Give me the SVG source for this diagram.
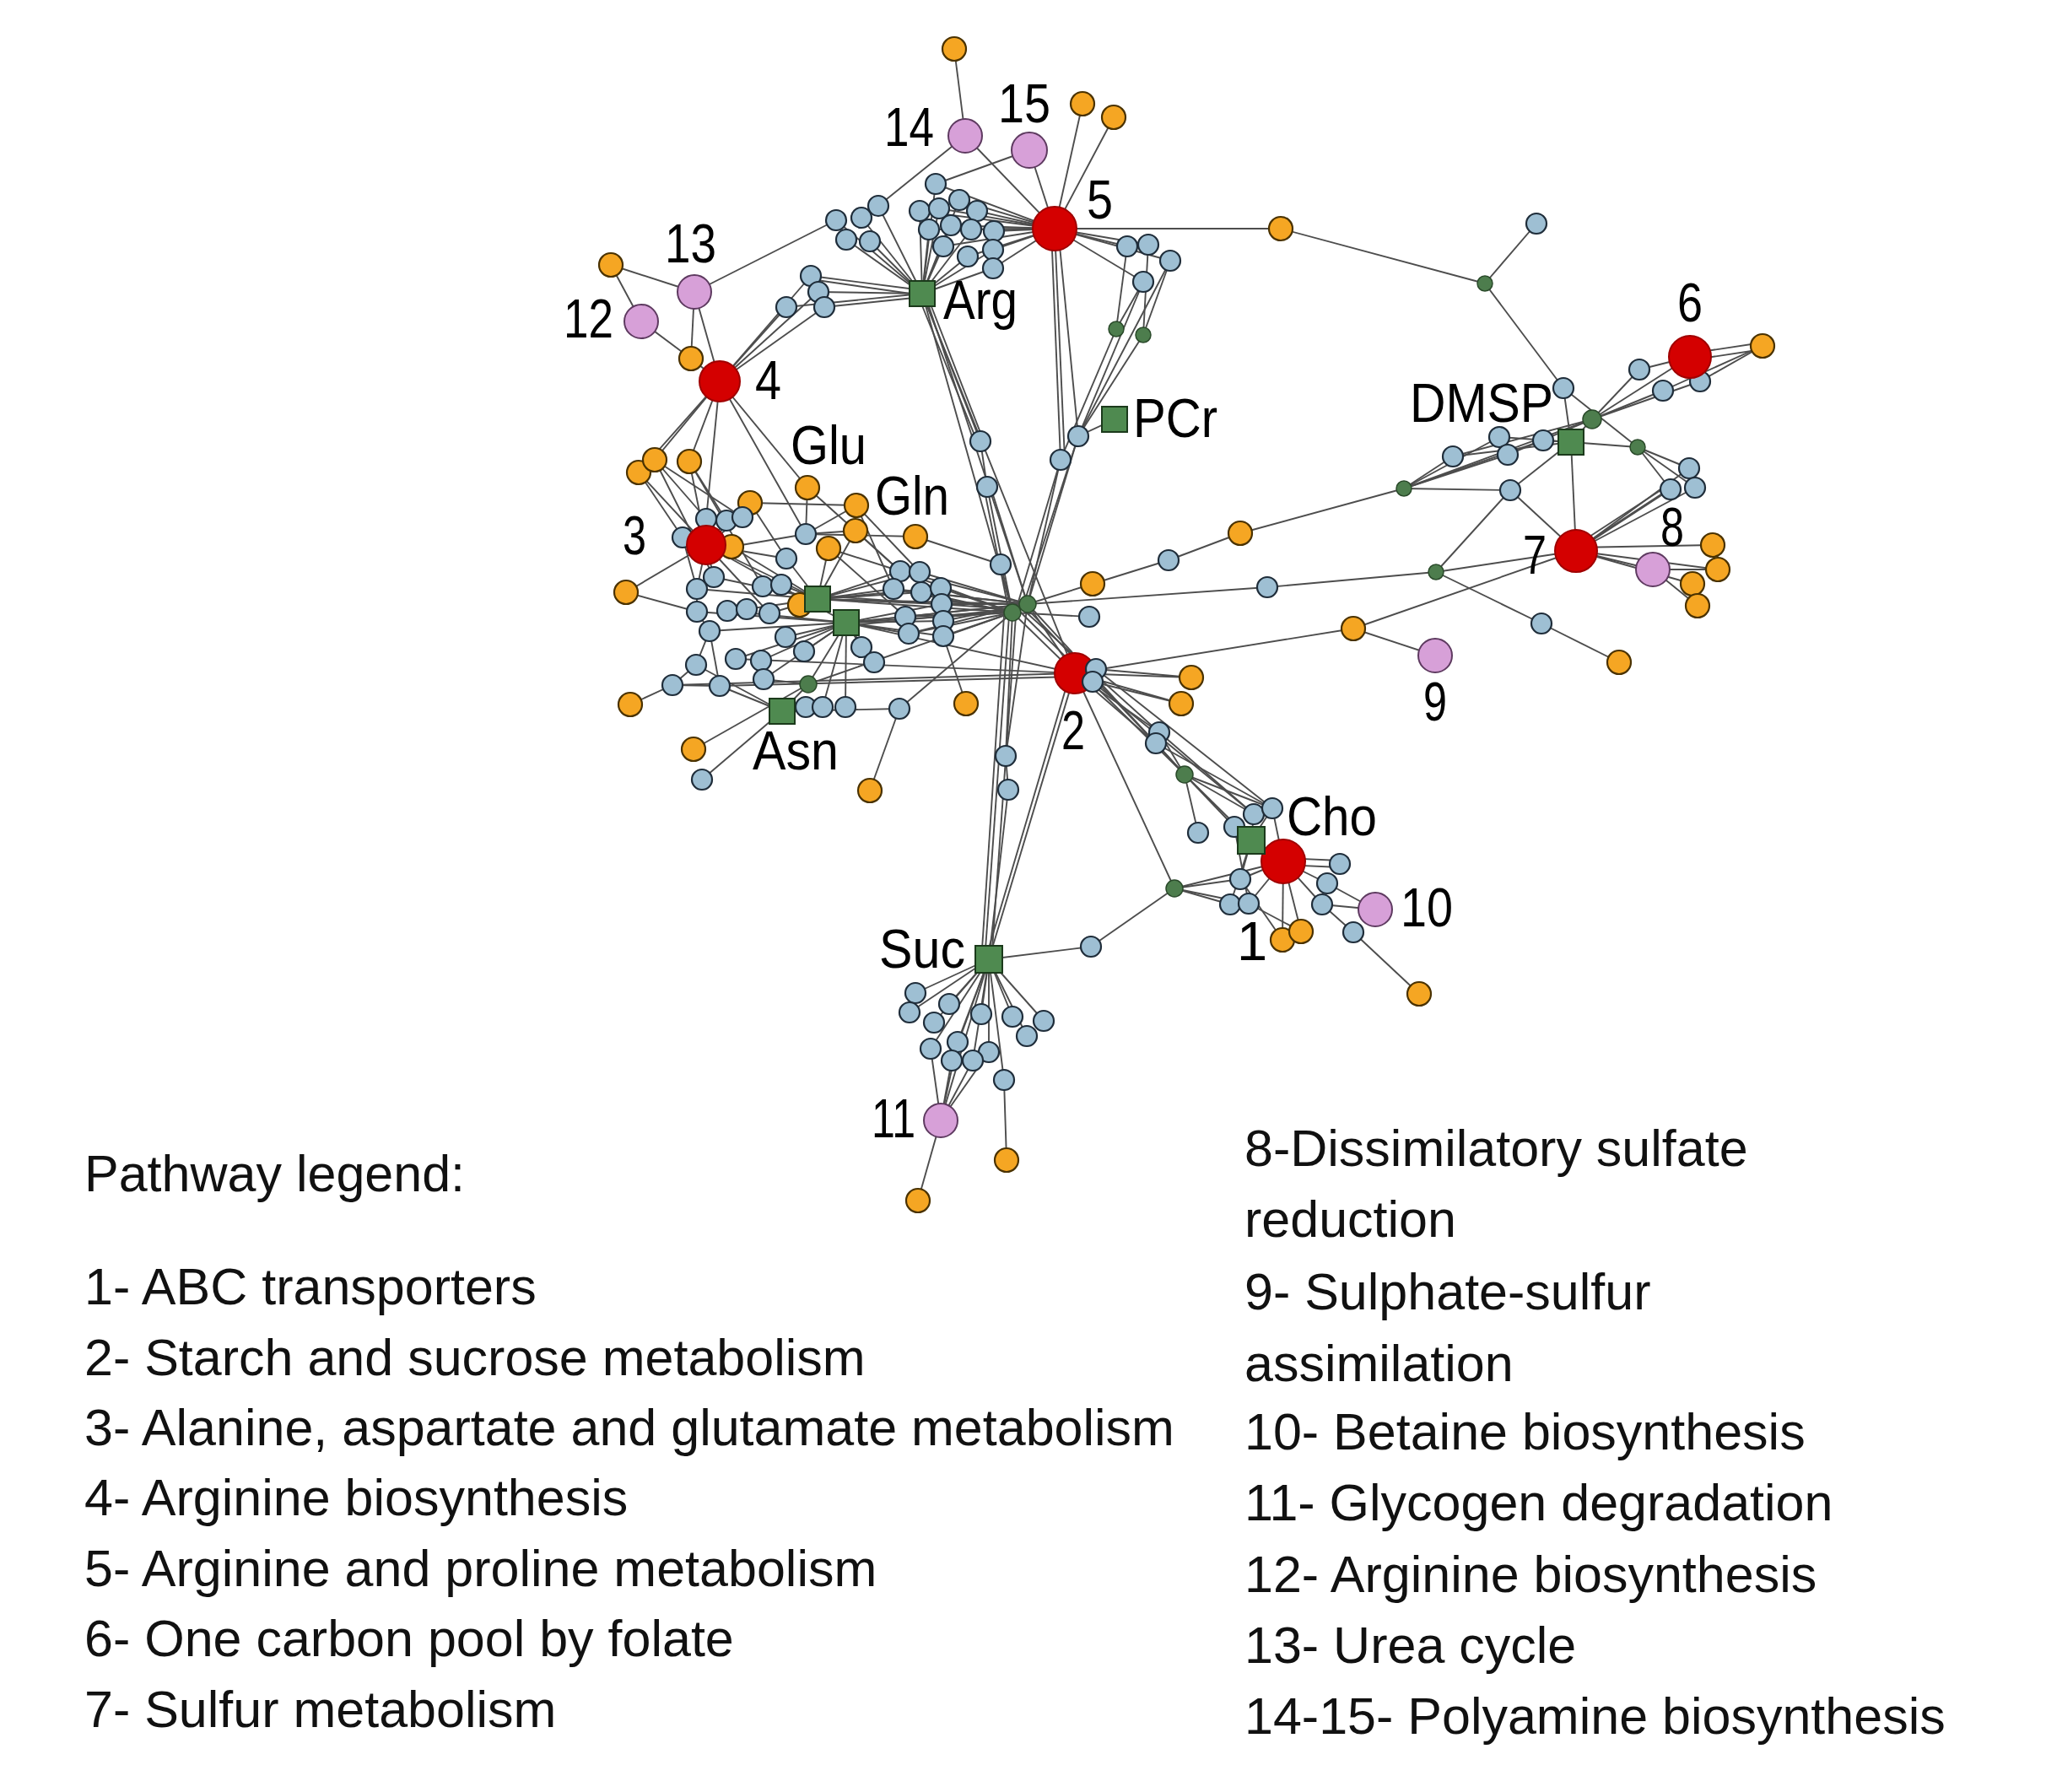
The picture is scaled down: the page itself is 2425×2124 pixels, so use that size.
<svg xmlns="http://www.w3.org/2000/svg" width="2425" height="2124" viewBox="0 0 2425 2124">
<style>
.e line{stroke:#4d4d4d;stroke-width:1.9;fill:none}
.b{fill:#9ebfd3;stroke:#1f2d3a;stroke-width:2.2}
.o{fill:#f5a623;stroke:#4a3200;stroke-width:2.2}
.r{fill:#d40000;stroke:#a00000;stroke-width:2}
.p{fill:#d7a0d8;stroke:#5e3a60;stroke-width:2}
.s{fill:#4f8a50;stroke:#1b3a1b;stroke-width:2}
.d{fill:#4d7d4d;stroke:#2a4a2a;stroke-width:1.5}
.lb{font-family:"Liberation Sans",Arial,sans-serif;font-size:65px;fill:#000}
.lg{font-family:"Liberation Sans",Arial,sans-serif;font-size:61px;fill:#111}
</style>
<rect width="2425" height="2124" fill="#fff"/>
<g id="connectors" class="e">
<line x1="1131" y1="58" x2="1144" y2="161"/>
<line x1="1144" y1="161" x2="1250" y2="271"/>
<line x1="1220" y1="178" x2="1250" y2="271"/>
<line x1="1283" y1="123" x2="1250" y2="271"/>
<line x1="1320" y1="139" x2="1250" y2="271"/>
<line x1="1250" y1="271" x2="1518" y2="271"/>
<line x1="1518" y1="271" x2="1760" y2="336"/>
<line x1="1821" y1="265" x2="1760" y2="336"/>
<line x1="1760" y1="336" x2="1853" y2="460"/>
<line x1="1853" y1="460" x2="1862" y2="524"/>
<line x1="1144" y1="161" x2="1041" y2="244"/>
<line x1="1220" y1="178" x2="1109" y2="218"/>
<line x1="823" y1="346" x2="991" y2="261"/>
<line x1="724" y1="314" x2="823" y2="346"/>
<line x1="724" y1="314" x2="760" y2="381"/>
<line x1="760" y1="381" x2="819" y2="425"/>
<line x1="823" y1="346" x2="819" y2="425"/>
<line x1="823" y1="346" x2="853" y2="452"/>
<line x1="819" y1="425" x2="853" y2="452"/>
<line x1="1250" y1="271" x2="1109" y2="218"/>
<line x1="1250" y1="271" x2="1090" y2="250"/>
<line x1="1250" y1="271" x2="1113" y2="247"/>
<line x1="1250" y1="271" x2="1137" y2="237"/>
<line x1="1250" y1="271" x2="1158" y2="250"/>
<line x1="1250" y1="271" x2="1101" y2="272"/>
<line x1="1250" y1="271" x2="1127" y2="267"/>
<line x1="1250" y1="271" x2="1151" y2="272"/>
<line x1="1250" y1="271" x2="1178" y2="274"/>
<line x1="1250" y1="271" x2="1118" y2="292"/>
<line x1="1250" y1="271" x2="1147" y2="304"/>
<line x1="1250" y1="271" x2="1177" y2="296"/>
<line x1="1250" y1="271" x2="1177" y2="318"/>
<line x1="1093" y1="348" x2="991" y2="261"/>
<line x1="1093" y1="348" x2="1003" y2="284"/>
<line x1="1093" y1="348" x2="1021" y2="258"/>
<line x1="1093" y1="348" x2="1041" y2="244"/>
<line x1="1093" y1="348" x2="1031" y2="286"/>
<line x1="1093" y1="348" x2="1090" y2="250"/>
<line x1="1093" y1="348" x2="1113" y2="247"/>
<line x1="1093" y1="348" x2="1137" y2="237"/>
<line x1="1093" y1="348" x2="1101" y2="272"/>
<line x1="1093" y1="348" x2="1127" y2="267"/>
<line x1="1093" y1="348" x2="1151" y2="272"/>
<line x1="1093" y1="348" x2="1118" y2="292"/>
<line x1="1093" y1="348" x2="1147" y2="304"/>
<line x1="1093" y1="348" x2="1177" y2="296"/>
<line x1="1093" y1="348" x2="1177" y2="318"/>
<line x1="1093" y1="348" x2="1109" y2="218"/>
<line x1="1093" y1="344" x2="961" y2="327"/>
<line x1="1093" y1="348" x2="970" y2="346"/>
<line x1="1093" y1="352" x2="977" y2="364"/>
<line x1="1093" y1="348" x2="932" y2="364"/>
<line x1="1093" y1="350" x2="961" y2="331"/>
<line x1="853" y1="452" x2="932" y2="364"/>
<line x1="853" y1="452" x2="961" y2="327"/>
<line x1="853" y1="452" x2="977" y2="364"/>
<line x1="853" y1="452" x2="970" y2="346"/>
<line x1="1250" y1="271" x2="1336" y2="292"/>
<line x1="1250" y1="271" x2="1361" y2="290"/>
<line x1="1250" y1="271" x2="1387" y2="309"/>
<line x1="1250" y1="271" x2="1355" y2="334"/>
<line x1="1336" y1="292" x2="1323" y2="390"/>
<line x1="1355" y1="334" x2="1323" y2="390"/>
<line x1="1361" y1="290" x2="1355" y2="397"/>
<line x1="1387" y1="309" x2="1355" y2="397"/>
<line x1="1355" y1="334" x2="1278" y2="517"/>
<line x1="1387" y1="309" x2="1278" y2="517"/>
<line x1="1323" y1="390" x2="1257" y2="545"/>
<line x1="1355" y1="397" x2="1278" y2="517"/>
<line x1="1246" y1="271" x2="1257" y2="545"/>
<line x1="1254" y1="271" x2="1278" y2="517"/>
<line x1="1250" y1="271" x2="1262" y2="545"/>
<line x1="1257" y1="545" x2="1205" y2="720"/>
<line x1="1278" y1="517" x2="1212" y2="720"/>
<line x1="1257" y1="545" x2="1218" y2="716"/>
<line x1="1278" y1="517" x2="1218" y2="716"/>
<line x1="1321" y1="497" x2="1278" y2="517"/>
<line x1="1093" y1="348" x2="1162" y2="523"/>
<line x1="1098" y1="348" x2="1166" y2="523"/>
<line x1="1088" y1="350" x2="1158" y2="523"/>
<line x1="1162" y1="523" x2="1170" y2="577"/>
<line x1="1170" y1="577" x2="1200" y2="726"/>
<line x1="1174" y1="577" x2="1218" y2="716"/>
<line x1="1166" y1="577" x2="1196" y2="726"/>
<line x1="1093" y1="348" x2="1200" y2="726"/>
<line x1="1096" y1="348" x2="1218" y2="716"/>
<line x1="1093" y1="348" x2="1274" y2="798"/>
<line x1="853" y1="452" x2="757" y2="560"/>
<line x1="853" y1="452" x2="776" y2="545"/>
<line x1="853" y1="452" x2="817" y2="547"/>
<line x1="853" y1="452" x2="957" y2="578"/>
<line x1="853" y1="452" x2="955" y2="633"/>
<line x1="853" y1="452" x2="837" y2="615"/>
<line x1="757" y1="560" x2="837" y2="646"/>
<line x1="776" y1="545" x2="837" y2="615"/>
<line x1="817" y1="547" x2="861" y2="617"/>
<line x1="817" y1="547" x2="837" y2="646"/>
<line x1="776" y1="545" x2="880" y2="613"/>
<line x1="757" y1="560" x2="809" y2="637"/>
<line x1="776" y1="545" x2="846" y2="684"/>
<line x1="817" y1="547" x2="904" y2="695"/>
<line x1="957" y1="578" x2="955" y2="633"/>
<line x1="957" y1="578" x2="1067" y2="677"/>
<line x1="889" y1="596" x2="837" y2="646"/>
<line x1="889" y1="596" x2="1015" y2="599"/>
<line x1="889" y1="596" x2="932" y2="662"/>
<line x1="1015" y1="599" x2="955" y2="633"/>
<line x1="1015" y1="599" x2="1090" y2="678"/>
<line x1="1015" y1="599" x2="1059" y2="698"/>
<line x1="1014" y1="629" x2="955" y2="633"/>
<line x1="1014" y1="629" x2="969" y2="710"/>
<line x1="1014" y1="629" x2="1067" y2="677"/>
<line x1="955" y1="633" x2="1085" y2="636"/>
<line x1="1085" y1="636" x2="1186" y2="669"/>
<line x1="1186" y1="669" x2="1200" y2="726"/>
<line x1="982" y1="650" x2="969" y2="710"/>
<line x1="982" y1="650" x2="1073" y2="731"/>
<line x1="982" y1="650" x2="1067" y2="677"/>
<line x1="867" y1="648" x2="955" y2="633"/>
<line x1="867" y1="648" x2="969" y2="710"/>
<line x1="742" y1="702" x2="837" y2="646"/>
<line x1="742" y1="702" x2="826" y2="725"/>
<line x1="948" y1="717" x2="969" y2="710"/>
<line x1="837" y1="646" x2="861" y2="617"/>
<line x1="837" y1="646" x2="880" y2="613"/>
<line x1="837" y1="646" x2="809" y2="637"/>
<line x1="837" y1="646" x2="846" y2="684"/>
<line x1="837" y1="646" x2="826" y2="698"/>
<line x1="837" y1="646" x2="932" y2="662"/>
<line x1="837" y1="646" x2="969" y2="710"/>
<line x1="837" y1="646" x2="1003" y2="738"/>
<line x1="837" y1="646" x2="912" y2="727"/>
<line x1="846" y1="684" x2="969" y2="710"/>
<line x1="826" y1="698" x2="969" y2="710"/>
<line x1="826" y1="725" x2="1003" y2="738"/>
<line x1="862" y1="724" x2="1003" y2="738"/>
<line x1="885" y1="722" x2="969" y2="710"/>
<line x1="912" y1="727" x2="969" y2="710"/>
<line x1="904" y1="695" x2="969" y2="710"/>
<line x1="926" y1="693" x2="969" y2="710"/>
<line x1="932" y1="662" x2="969" y2="710"/>
<line x1="841" y1="748" x2="1003" y2="738"/>
<line x1="931" y1="755" x2="1003" y2="738"/>
<line x1="953" y1="772" x2="1003" y2="738"/>
<line x1="872" y1="781" x2="1003" y2="738"/>
<line x1="902" y1="783" x2="1003" y2="738"/>
<line x1="905" y1="805" x2="1003" y2="738"/>
<line x1="1021" y1="767" x2="1003" y2="738"/>
<line x1="1036" y1="785" x2="1003" y2="738"/>
<line x1="809" y1="637" x2="826" y2="698"/>
<line x1="826" y1="698" x2="826" y2="725"/>
<line x1="826" y1="725" x2="841" y2="748"/>
<line x1="841" y1="748" x2="825" y2="788"/>
<line x1="825" y1="788" x2="797" y2="812"/>
<line x1="797" y1="812" x2="747" y2="835"/>
<line x1="797" y1="812" x2="853" y2="813"/>
<line x1="853" y1="813" x2="927" y2="843"/>
<line x1="825" y1="788" x2="927" y2="843"/>
<line x1="841" y1="748" x2="853" y2="813"/>
<line x1="797" y1="812" x2="1274" y2="798"/>
<line x1="853" y1="813" x2="1274" y2="802"/>
<line x1="872" y1="781" x2="1274" y2="798"/>
<line x1="969" y1="710" x2="1200" y2="726"/>
<line x1="969" y1="710" x2="1218" y2="716"/>
<line x1="1003" y1="738" x2="1200" y2="726"/>
<line x1="1003" y1="738" x2="1218" y2="716"/>
<line x1="969" y1="706" x2="1200" y2="722"/>
<line x1="1003" y1="742" x2="1218" y2="720"/>
<line x1="1003" y1="738" x2="1274" y2="798"/>
<line x1="969" y1="710" x2="1067" y2="677"/>
<line x1="969" y1="710" x2="1090" y2="678"/>
<line x1="969" y1="710" x2="1059" y2="698"/>
<line x1="969" y1="710" x2="1092" y2="702"/>
<line x1="969" y1="710" x2="1115" y2="697"/>
<line x1="969" y1="710" x2="1116" y2="716"/>
<line x1="1003" y1="738" x2="1073" y2="731"/>
<line x1="1003" y1="738" x2="1118" y2="736"/>
<line x1="1003" y1="738" x2="1077" y2="751"/>
<line x1="1003" y1="738" x2="1118" y2="754"/>
<line x1="1003" y1="738" x2="1116" y2="716"/>
<line x1="1067" y1="677" x2="1200" y2="726"/>
<line x1="1090" y1="678" x2="1218" y2="716"/>
<line x1="1059" y1="698" x2="1200" y2="726"/>
<line x1="1092" y1="702" x2="1218" y2="716"/>
<line x1="1115" y1="697" x2="1200" y2="726"/>
<line x1="1116" y1="716" x2="1218" y2="716"/>
<line x1="1073" y1="731" x2="1200" y2="726"/>
<line x1="1118" y1="736" x2="1218" y2="716"/>
<line x1="1077" y1="751" x2="1200" y2="726"/>
<line x1="1118" y1="754" x2="1200" y2="726"/>
<line x1="1067" y1="677" x2="1218" y2="716"/>
<line x1="1073" y1="731" x2="1218" y2="716"/>
<line x1="1059" y1="698" x2="1218" y2="716"/>
<line x1="1077" y1="751" x2="1218" y2="716"/>
<line x1="1092" y1="702" x2="1200" y2="726"/>
<line x1="927" y1="843" x2="1066" y2="840"/>
<line x1="1066" y1="840" x2="1031" y2="937"/>
<line x1="1066" y1="840" x2="1200" y2="726"/>
<line x1="927" y1="843" x2="832" y2="924"/>
<line x1="927" y1="843" x2="958" y2="811"/>
<line x1="958" y1="811" x2="1003" y2="738"/>
<line x1="958" y1="811" x2="1200" y2="726"/>
<line x1="958" y1="811" x2="905" y2="805"/>
<line x1="822" y1="888" x2="958" y2="811"/>
<line x1="1002" y1="838" x2="1003" y2="738"/>
<line x1="975" y1="838" x2="1003" y2="738"/>
<line x1="1145" y1="834" x2="1118" y2="754"/>
<line x1="1200" y1="726" x2="1291" y2="731"/>
<line x1="1218" y1="716" x2="1295" y2="692"/>
<line x1="1295" y1="692" x2="1385" y2="664"/>
<line x1="1385" y1="664" x2="1470" y2="632"/>
<line x1="1470" y1="632" x2="1664" y2="579"/>
<line x1="1218" y1="716" x2="1502" y2="696"/>
<line x1="1502" y1="696" x2="1702" y2="678"/>
<line x1="1702" y1="678" x2="1868" y2="653"/>
<line x1="1702" y1="678" x2="1827" y2="739"/>
<line x1="1827" y1="739" x2="1919" y2="785"/>
<line x1="1702" y1="678" x2="1790" y2="581"/>
<line x1="1664" y1="579" x2="1722" y2="541"/>
<line x1="1664" y1="579" x2="1777" y2="518"/>
<line x1="1664" y1="579" x2="1787" y2="539"/>
<line x1="1664" y1="579" x2="1829" y2="522"/>
<line x1="1664" y1="579" x2="1790" y2="581"/>
<line x1="1664" y1="579" x2="1887" y2="497"/>
<line x1="1722" y1="541" x2="1862" y2="524"/>
<line x1="1777" y1="518" x2="1862" y2="524"/>
<line x1="1829" y1="522" x2="1862" y2="524"/>
<line x1="1722" y1="541" x2="1887" y2="497"/>
<line x1="1787" y1="539" x2="1887" y2="497"/>
<line x1="1790" y1="581" x2="1862" y2="524"/>
<line x1="1790" y1="581" x2="1868" y2="653"/>
<line x1="1862" y1="524" x2="1868" y2="653"/>
<line x1="1862" y1="524" x2="1887" y2="497"/>
<line x1="1862" y1="524" x2="1941" y2="530"/>
<line x1="1887" y1="497" x2="2003" y2="423"/>
<line x1="1887" y1="497" x2="1943" y2="438"/>
<line x1="1887" y1="497" x2="1971" y2="463"/>
<line x1="1887" y1="497" x2="2015" y2="452"/>
<line x1="1853" y1="460" x2="1941" y2="530"/>
<line x1="2003" y1="419" x2="2089" y2="406"/>
<line x1="2003" y1="427" x2="2089" y2="414"/>
<line x1="1943" y1="438" x2="2003" y2="423"/>
<line x1="2015" y1="452" x2="2089" y2="410"/>
<line x1="1971" y1="463" x2="2089" y2="410"/>
<line x1="1941" y1="530" x2="2002" y2="555"/>
<line x1="1941" y1="530" x2="1980" y2="580"/>
<line x1="1941" y1="530" x2="2009" y2="578"/>
<line x1="1868" y1="653" x2="1980" y2="580"/>
<line x1="1872" y1="649" x2="1984" y2="576"/>
<line x1="1864" y1="649" x2="1976" y2="576"/>
<line x1="1868" y1="653" x2="2002" y2="555"/>
<line x1="1868" y1="653" x2="2009" y2="578"/>
<line x1="1868" y1="653" x2="1959" y2="675"/>
<line x1="1868" y1="649" x2="2030" y2="646"/>
<line x1="1868" y1="653" x2="2036" y2="675"/>
<line x1="1868" y1="653" x2="2006" y2="692"/>
<line x1="1959" y1="675" x2="2012" y2="718"/>
<line x1="1959" y1="675" x2="2036" y2="675"/>
<line x1="1274" y1="798" x2="1604" y2="745"/>
<line x1="1604" y1="745" x2="1868" y2="653"/>
<line x1="1604" y1="745" x2="1701" y2="777"/>
<line x1="1200" y1="726" x2="1274" y2="798"/>
<line x1="1218" y1="716" x2="1274" y2="798"/>
<line x1="1212" y1="722" x2="1374" y2="868"/>
<line x1="1216" y1="720" x2="1370" y2="881"/>
<line x1="1220" y1="718" x2="1404" y2="918"/>
<line x1="1208" y1="724" x2="1404" y2="918"/>
<line x1="1274" y1="798" x2="1374" y2="868"/>
<line x1="1274" y1="798" x2="1370" y2="881"/>
<line x1="1274" y1="798" x2="1299" y2="793"/>
<line x1="1274" y1="798" x2="1295" y2="808"/>
<line x1="1274" y1="798" x2="1412" y2="803"/>
<line x1="1274" y1="798" x2="1400" y2="834"/>
<line x1="1299" y1="793" x2="1412" y2="803"/>
<line x1="1295" y1="808" x2="1400" y2="834"/>
<line x1="1374" y1="868" x2="1404" y2="918"/>
<line x1="1370" y1="881" x2="1404" y2="918"/>
<line x1="1404" y1="918" x2="1420" y2="987"/>
<line x1="1404" y1="918" x2="1463" y2="980"/>
<line x1="1404" y1="918" x2="1486" y2="965"/>
<line x1="1404" y1="918" x2="1508" y2="958"/>
<line x1="1404" y1="918" x2="1483" y2="996"/>
<line x1="1374" y1="868" x2="1486" y2="965"/>
<line x1="1370" y1="881" x2="1508" y2="958"/>
<line x1="1295" y1="808" x2="1486" y2="965"/>
<line x1="1299" y1="793" x2="1508" y2="958"/>
<line x1="1274" y1="798" x2="1392" y2="1053"/>
<line x1="1274" y1="798" x2="1172" y2="1137"/>
<line x1="1268" y1="800" x2="1168" y2="1137"/>
<line x1="1200" y1="726" x2="1192" y2="896"/>
<line x1="1218" y1="716" x2="1192" y2="896"/>
<line x1="1192" y1="896" x2="1195" y2="936"/>
<line x1="1195" y1="936" x2="1172" y2="1137"/>
<line x1="1196" y1="730" x2="1168" y2="1125"/>
<line x1="1190" y1="730" x2="1164" y2="1125"/>
<line x1="1204" y1="730" x2="1176" y2="1125"/>
<line x1="1172" y1="1137" x2="1293" y2="1122"/>
<line x1="1293" y1="1122" x2="1392" y2="1053"/>
<line x1="1392" y1="1053" x2="1470" y2="1042"/>
<line x1="1392" y1="1053" x2="1458" y2="1072"/>
<line x1="1392" y1="1053" x2="1480" y2="1071"/>
<line x1="1392" y1="1053" x2="1521" y2="1021"/>
<line x1="1483" y1="996" x2="1508" y2="958"/>
<line x1="1483" y1="996" x2="1486" y2="965"/>
<line x1="1483" y1="996" x2="1463" y2="980"/>
<line x1="1483" y1="996" x2="1470" y2="1042"/>
<line x1="1483" y1="996" x2="1458" y2="1072"/>
<line x1="1521" y1="1017" x2="1588" y2="1020"/>
<line x1="1521" y1="1025" x2="1588" y2="1028"/>
<line x1="1521" y1="1021" x2="1573" y2="1047"/>
<line x1="1521" y1="1021" x2="1567" y2="1072"/>
<line x1="1521" y1="1021" x2="1520" y2="1114"/>
<line x1="1521" y1="1021" x2="1542" y2="1104"/>
<line x1="1521" y1="1021" x2="1480" y2="1071"/>
<line x1="1521" y1="1021" x2="1470" y2="1042"/>
<line x1="1521" y1="1021" x2="1508" y2="958"/>
<line x1="1573" y1="1047" x2="1630" y2="1078"/>
<line x1="1567" y1="1072" x2="1630" y2="1078"/>
<line x1="1567" y1="1072" x2="1604" y2="1105"/>
<line x1="1604" y1="1105" x2="1682" y2="1178"/>
<line x1="1470" y1="1042" x2="1520" y2="1114"/>
<line x1="1480" y1="1071" x2="1542" y2="1104"/>
<line x1="1463" y1="980" x2="1480" y2="1071"/>
<line x1="1172" y1="1137" x2="1085" y2="1177"/>
<line x1="1172" y1="1137" x2="1078" y2="1200"/>
<line x1="1172" y1="1137" x2="1125" y2="1190"/>
<line x1="1172" y1="1137" x2="1107" y2="1212"/>
<line x1="1172" y1="1137" x2="1163" y2="1202"/>
<line x1="1172" y1="1137" x2="1200" y2="1205"/>
<line x1="1172" y1="1137" x2="1237" y2="1210"/>
<line x1="1172" y1="1137" x2="1217" y2="1228"/>
<line x1="1172" y1="1137" x2="1103" y2="1243"/>
<line x1="1172" y1="1137" x2="1135" y2="1235"/>
<line x1="1172" y1="1137" x2="1172" y2="1247"/>
<line x1="1172" y1="1137" x2="1128" y2="1257"/>
<line x1="1172" y1="1137" x2="1153" y2="1257"/>
<line x1="1172" y1="1137" x2="1190" y2="1280"/>
<line x1="1172" y1="1137" x2="1115" y2="1328"/>
<line x1="1103" y1="1243" x2="1115" y2="1328"/>
<line x1="1128" y1="1257" x2="1115" y2="1328"/>
<line x1="1153" y1="1257" x2="1115" y2="1328"/>
<line x1="1172" y1="1247" x2="1115" y2="1328"/>
<line x1="1135" y1="1235" x2="1115" y2="1328"/>
<line x1="1115" y1="1328" x2="1088" y2="1423"/>
<line x1="1190" y1="1280" x2="1193" y2="1375"/>
</g>
<g id="nodes">
<g id="o1"><circle class="o" cx="1131" cy="58" r="14"/></g>
<g id="o2"><circle class="o" cx="1283" cy="123" r="14"/></g>
<g id="o3"><circle class="o" cx="1320" cy="139" r="14"/></g>
<g id="o4"><circle class="o" cx="724" cy="314" r="14"/></g>
<g id="o5"><circle class="o" cx="819" cy="425" r="14"/></g>
<g id="o6"><circle class="o" cx="757" cy="560" r="14"/></g>
<g id="o7"><circle class="o" cx="776" cy="545" r="14"/></g>
<g id="o8"><circle class="o" cx="817" cy="547" r="14"/></g>
<g id="o9"><circle class="o" cx="957" cy="578" r="14"/></g>
<g id="o10"><circle class="o" cx="889" cy="596" r="14"/></g>
<g id="o11"><circle class="o" cx="1015" cy="599" r="14"/></g>
<g id="o12"><circle class="o" cx="1014" cy="629" r="14"/></g>
<g id="o13"><circle class="o" cx="1085" cy="636" r="14"/></g>
<g id="o14"><circle class="o" cx="982" cy="650" r="14"/></g>
<g id="o16"><circle class="o" cx="742" cy="702" r="14"/></g>
<g id="o17"><circle class="o" cx="948" cy="717" r="14"/></g>
<g id="o18"><circle class="o" cx="747" cy="835" r="14"/></g>
<g id="o19"><circle class="o" cx="822" cy="888" r="14"/></g>
<g id="o20"><circle class="o" cx="1145" cy="834" r="14"/></g>
<g id="o21"><circle class="o" cx="1031" cy="937" r="14"/></g>
<g id="o22"><circle class="o" cx="1518" cy="271" r="14"/></g>
<g id="o23"><circle class="o" cx="1295" cy="692" r="14"/></g>
<g id="o24"><circle class="o" cx="1470" cy="632" r="14"/></g>
<g id="o25"><circle class="o" cx="1412" cy="803" r="14"/></g>
<g id="o26"><circle class="o" cx="1400" cy="834" r="14"/></g>
<g id="o27"><circle class="o" cx="1604" cy="745" r="14"/></g>
<g id="o28"><circle class="o" cx="1919" cy="785" r="14"/></g>
<g id="o29"><circle class="o" cx="2089" cy="410" r="14"/></g>
<g id="o30"><circle class="o" cx="2030" cy="646" r="14"/></g>
<g id="o31"><circle class="o" cx="2036" cy="675" r="14"/></g>
<g id="o32"><circle class="o" cx="2006" cy="692" r="14"/></g>
<g id="o33"><circle class="o" cx="2012" cy="718" r="14"/></g>
<g id="o34"><circle class="o" cx="1520" cy="1114" r="14"/></g>
<g id="o35"><circle class="o" cx="1542" cy="1104" r="14"/></g>
<g id="o36"><circle class="o" cx="1682" cy="1178" r="14"/></g>
<g id="o37"><circle class="o" cx="1193" cy="1375" r="14"/></g>
<g id="o38"><circle class="o" cx="1088" cy="1423" r="14"/></g>
<g id="b1"><circle class="b" cx="1109" cy="218" r="12"/></g>
<g id="b2"><circle class="b" cx="1041" cy="244" r="12"/></g>
<g id="b3"><circle class="b" cx="1021" cy="258" r="12"/></g>
<g id="b4"><circle class="b" cx="991" cy="261" r="12"/></g>
<g id="b5"><circle class="b" cx="1003" cy="284" r="12"/></g>
<g id="b6"><circle class="b" cx="1031" cy="286" r="12"/></g>
<g id="b7"><circle class="b" cx="1090" cy="250" r="12"/></g>
<g id="b8"><circle class="b" cx="1113" cy="247" r="12"/></g>
<g id="b9"><circle class="b" cx="1137" cy="237" r="12"/></g>
<g id="b10"><circle class="b" cx="1158" cy="250" r="12"/></g>
<g id="b11"><circle class="b" cx="1101" cy="272" r="12"/></g>
<g id="b12"><circle class="b" cx="1127" cy="267" r="12"/></g>
<g id="b13"><circle class="b" cx="1151" cy="272" r="12"/></g>
<g id="b14"><circle class="b" cx="1178" cy="274" r="12"/></g>
<g id="b15"><circle class="b" cx="1118" cy="292" r="12"/></g>
<g id="b16"><circle class="b" cx="1147" cy="304" r="12"/></g>
<g id="b17"><circle class="b" cx="1177" cy="296" r="12"/></g>
<g id="b18"><circle class="b" cx="1177" cy="318" r="12"/></g>
<g id="b19"><circle class="b" cx="1336" cy="292" r="12"/></g>
<g id="b20"><circle class="b" cx="1361" cy="290" r="12"/></g>
<g id="b21"><circle class="b" cx="1387" cy="309" r="12"/></g>
<g id="b22"><circle class="b" cx="1355" cy="334" r="12"/></g>
<g id="b23"><circle class="b" cx="961" cy="327" r="12"/></g>
<g id="b24"><circle class="b" cx="970" cy="346" r="12"/></g>
<g id="b25"><circle class="b" cx="977" cy="364" r="12"/></g>
<g id="b26"><circle class="b" cx="932" cy="364" r="12"/></g>
<g id="b27"><circle class="b" cx="1162" cy="523" r="12"/></g>
<g id="b28"><circle class="b" cx="1170" cy="577" r="12"/></g>
<g id="b29"><circle class="b" cx="1278" cy="517" r="12"/></g>
<g id="b30"><circle class="b" cx="1257" cy="545" r="12"/></g>
<g id="b31"><circle class="b" cx="1186" cy="669" r="12"/></g>
<g id="b32"><circle class="b" cx="837" cy="615" r="12"/></g>
<g id="b33"><circle class="b" cx="861" cy="617" r="12"/></g>
<g id="b34"><circle class="b" cx="880" cy="613" r="12"/></g>
<g id="b35"><circle class="b" cx="809" cy="637" r="12"/></g>
<g id="b36"><circle class="b" cx="955" cy="633" r="12"/></g>
<g id="b37"><circle class="b" cx="932" cy="662" r="12"/></g>
<g id="b38"><circle class="b" cx="846" cy="684" r="12"/></g>
<g id="b39"><circle class="b" cx="826" cy="698" r="12"/></g>
<g id="b40"><circle class="b" cx="904" cy="695" r="12"/></g>
<g id="b41"><circle class="b" cx="926" cy="693" r="12"/></g>
<g id="b42"><circle class="b" cx="826" cy="725" r="12"/></g>
<g id="b43"><circle class="b" cx="862" cy="724" r="12"/></g>
<g id="b44"><circle class="b" cx="885" cy="722" r="12"/></g>
<g id="b45"><circle class="b" cx="912" cy="727" r="12"/></g>
<g id="b46"><circle class="b" cx="841" cy="748" r="12"/></g>
<g id="b47"><circle class="b" cx="931" cy="755" r="12"/></g>
<g id="b48"><circle class="b" cx="953" cy="772" r="12"/></g>
<g id="b49"><circle class="b" cx="872" cy="781" r="12"/></g>
<g id="b50"><circle class="b" cx="902" cy="783" r="12"/></g>
<g id="b51"><circle class="b" cx="825" cy="788" r="12"/></g>
<g id="b52"><circle class="b" cx="905" cy="805" r="12"/></g>
<g id="b53"><circle class="b" cx="797" cy="812" r="12"/></g>
<g id="b54"><circle class="b" cx="853" cy="813" r="12"/></g>
<g id="b55"><circle class="b" cx="1021" cy="767" r="12"/></g>
<g id="b56"><circle class="b" cx="1036" cy="785" r="12"/></g>
<g id="b57"><circle class="b" cx="1067" cy="677" r="12"/></g>
<g id="b58"><circle class="b" cx="1090" cy="678" r="12"/></g>
<g id="b59"><circle class="b" cx="1059" cy="698" r="12"/></g>
<g id="b60"><circle class="b" cx="1092" cy="702" r="12"/></g>
<g id="b61"><circle class="b" cx="1115" cy="697" r="12"/></g>
<g id="b62"><circle class="b" cx="1116" cy="716" r="12"/></g>
<g id="b63"><circle class="b" cx="1073" cy="731" r="12"/></g>
<g id="b64"><circle class="b" cx="1118" cy="736" r="12"/></g>
<g id="b65"><circle class="b" cx="1077" cy="751" r="12"/></g>
<g id="b66"><circle class="b" cx="1118" cy="754" r="12"/></g>
<g id="b67"><circle class="b" cx="955" cy="838" r="12"/></g>
<g id="b68"><circle class="b" cx="975" cy="838" r="12"/></g>
<g id="b69"><circle class="b" cx="1002" cy="838" r="12"/></g>
<g id="b70"><circle class="b" cx="1066" cy="840" r="12"/></g>
<g id="b71"><circle class="b" cx="832" cy="924" r="12"/></g>
<g id="b72"><circle class="b" cx="1291" cy="731" r="12"/></g>
<g id="b73"><circle class="b" cx="1385" cy="664" r="12"/></g>
<g id="b74"><circle class="b" cx="1502" cy="696" r="12"/></g>
<g id="b77"><circle class="b" cx="1374" cy="868" r="12"/></g>
<g id="b78"><circle class="b" cx="1370" cy="881" r="12"/></g>
<g id="b79"><circle class="b" cx="1192" cy="896" r="12"/></g>
<g id="b80"><circle class="b" cx="1195" cy="936" r="12"/></g>
<g id="b81"><circle class="b" cx="1821" cy="265" r="12"/></g>
<g id="b82"><circle class="b" cx="1853" cy="460" r="12"/></g>
<g id="b83"><circle class="b" cx="1943" cy="438" r="12"/></g>
<g id="b84"><circle class="b" cx="2015" cy="452" r="12"/></g>
<g id="b85"><circle class="b" cx="1971" cy="463" r="12"/></g>
<g id="b86"><circle class="b" cx="1829" cy="522" r="12"/></g>
<g id="b87"><circle class="b" cx="1777" cy="518" r="12"/></g>
<g id="b88"><circle class="b" cx="1787" cy="539" r="12"/></g>
<g id="b89"><circle class="b" cx="1722" cy="541" r="12"/></g>
<g id="b90"><circle class="b" cx="2002" cy="555" r="12"/></g>
<g id="b91"><circle class="b" cx="1980" cy="580" r="12"/></g>
<g id="b92"><circle class="b" cx="2009" cy="578" r="12"/></g>
<g id="b93"><circle class="b" cx="1790" cy="581" r="12"/></g>
<g id="b94"><circle class="b" cx="1827" cy="739" r="12"/></g>
<g id="b95"><circle class="b" cx="1420" cy="987" r="12"/></g>
<g id="b96"><circle class="b" cx="1463" cy="980" r="12"/></g>
<g id="b97"><circle class="b" cx="1486" cy="965" r="12"/></g>
<g id="b98"><circle class="b" cx="1508" cy="958" r="12"/></g>
<g id="b99"><circle class="b" cx="1588" cy="1024" r="12"/></g>
<g id="b100"><circle class="b" cx="1573" cy="1047" r="12"/></g>
<g id="b101"><circle class="b" cx="1567" cy="1072" r="12"/></g>
<g id="b102"><circle class="b" cx="1604" cy="1105" r="12"/></g>
<g id="b103"><circle class="b" cx="1470" cy="1042" r="12"/></g>
<g id="b104"><circle class="b" cx="1458" cy="1072" r="12"/></g>
<g id="b105"><circle class="b" cx="1480" cy="1071" r="12"/></g>
<g id="b106"><circle class="b" cx="1293" cy="1122" r="12"/></g>
<g id="b107"><circle class="b" cx="1085" cy="1177" r="12"/></g>
<g id="b108"><circle class="b" cx="1078" cy="1200" r="12"/></g>
<g id="b109"><circle class="b" cx="1125" cy="1190" r="12"/></g>
<g id="b110"><circle class="b" cx="1107" cy="1212" r="12"/></g>
<g id="b111"><circle class="b" cx="1163" cy="1202" r="12"/></g>
<g id="b112"><circle class="b" cx="1200" cy="1205" r="12"/></g>
<g id="b113"><circle class="b" cx="1237" cy="1210" r="12"/></g>
<g id="b114"><circle class="b" cx="1217" cy="1228" r="12"/></g>
<g id="b115"><circle class="b" cx="1103" cy="1243" r="12"/></g>
<g id="b116"><circle class="b" cx="1135" cy="1235" r="12"/></g>
<g id="b117"><circle class="b" cx="1172" cy="1247" r="12"/></g>
<g id="b118"><circle class="b" cx="1128" cy="1257" r="12"/></g>
<g id="b119"><circle class="b" cx="1153" cy="1257" r="12"/></g>
<g id="b120"><circle class="b" cx="1190" cy="1280" r="12"/></g>
<g id="d1"><circle class="d" cx="1323" cy="390" r="9"/></g>
<g id="d2"><circle class="d" cx="1355" cy="397" r="9"/></g>
<g id="d3"><circle class="d" cx="1760" cy="336" r="9"/></g>
<g id="d4"><circle class="d" cx="1887" cy="497" r="11"/></g>
<g id="d5"><circle class="d" cx="1941" cy="530" r="9"/></g>
<g id="d6"><circle class="d" cx="1664" cy="579" r="9"/></g>
<g id="d7"><circle class="d" cx="1702" cy="678" r="9"/></g>
<g id="d8"><circle class="d" cx="1200" cy="726" r="10"/></g>
<g id="d9"><circle class="d" cx="1218" cy="716" r="10"/></g>
<g id="d10"><circle class="d" cx="958" cy="811" r="10"/></g>
<g id="d11"><circle class="d" cx="1404" cy="918" r="10"/></g>
<g id="d12"><circle class="d" cx="1392" cy="1053" r="10"/></g>
<g id="o15"><circle class="o" cx="867" cy="648" r="14"/></g>
<g id="r3"><circle class="r" cx="837" cy="646" r="23"/></g>
<g id="r4"><circle class="r" cx="853" cy="452" r="24"/></g>
<g id="r5"><circle class="r" cx="1250" cy="271" r="26"/></g>
<g id="r2"><circle class="r" cx="1274" cy="798" r="24"/></g>
<g id="r6"><circle class="r" cx="2003" cy="423" r="25"/></g>
<g id="r7"><circle class="r" cx="1868" cy="653" r="25"/></g>
<g id="rCho"><circle class="r" cx="1521" cy="1021" r="26"/></g>
<g id="b75"><circle class="b" cx="1299" cy="793" r="12"/></g>
<g id="b76"><circle class="b" cx="1295" cy="808" r="12"/></g>
<g id="p8"><circle class="p" cx="1959" cy="675" r="20"/></g>
<g id="p9"><circle class="p" cx="1701" cy="777" r="20"/></g>
<g id="p10"><circle class="p" cx="1630" cy="1078" r="20"/></g>
<g id="p11"><circle class="p" cx="1115" cy="1328" r="20"/></g>
<g id="p12"><circle class="p" cx="760" cy="381" r="20"/></g>
<g id="p13"><circle class="p" cx="823" cy="346" r="20"/></g>
<g id="p14"><circle class="p" cx="1144" cy="161" r="20"/></g>
<g id="p15"><circle class="p" cx="1220" cy="178" r="21"/></g>
<g id="Arg"><rect class="s" x="1078" y="333" width="30" height="30"/></g>
<g id="PCr"><rect class="s" x="1306" y="482" width="30" height="30"/></g>
<g id="DMSP"><rect class="s" x="1847" y="509" width="30" height="30"/></g>
<g id="Glu"><rect class="s" x="954" y="695" width="30" height="30"/></g>
<g id="Gln"><rect class="s" x="988" y="723" width="30" height="30"/></g>
<g id="Asn"><rect class="s" x="912" y="828" width="30" height="30"/></g>
<g id="Cho"><rect class="s" x="1467" y="980" width="32" height="32"/></g>
<g id="Suc"><rect class="s" x="1156" y="1121" width="32" height="32"/></g>
</g>
<g id="labels" class="lb">
<text x="1048" y="173" textLength="59" lengthAdjust="spacingAndGlyphs">14</text>
<text x="1183" y="145" textLength="62" lengthAdjust="spacingAndGlyphs">15</text>
<text x="1288" y="259" textLength="31" lengthAdjust="spacingAndGlyphs">5</text>
<text x="788" y="311" textLength="61" lengthAdjust="spacingAndGlyphs">13</text>
<text x="668" y="400" textLength="59" lengthAdjust="spacingAndGlyphs">12</text>
<text x="895" y="473" textLength="31" lengthAdjust="spacingAndGlyphs">4</text>
<text x="1118" y="378" textLength="88" lengthAdjust="spacingAndGlyphs">Arg</text>
<text x="1343" y="518" textLength="100" lengthAdjust="spacingAndGlyphs">PCr</text>
<text x="937" y="550" textLength="90" lengthAdjust="spacingAndGlyphs">Glu</text>
<text x="1037" y="610" textLength="88" lengthAdjust="spacingAndGlyphs">Gln</text>
<text x="738" y="657" textLength="28" lengthAdjust="spacingAndGlyphs">3</text>
<text x="1671" y="500" textLength="170" lengthAdjust="spacingAndGlyphs">DMSP</text>
<text x="1988" y="381" textLength="30" lengthAdjust="spacingAndGlyphs">6</text>
<text x="1805" y="680" textLength="28" lengthAdjust="spacingAndGlyphs">7</text>
<text x="1968" y="647" textLength="28" lengthAdjust="spacingAndGlyphs">8</text>
<text x="1687" y="854" textLength="28" lengthAdjust="spacingAndGlyphs">9</text>
<text x="1258" y="888" textLength="28" lengthAdjust="spacingAndGlyphs">2</text>
<text x="892" y="912" textLength="102" lengthAdjust="spacingAndGlyphs">Asn</text>
<text x="1525" y="990" textLength="107" lengthAdjust="spacingAndGlyphs">Cho</text>
<text x="1660" y="1098" textLength="62" lengthAdjust="spacingAndGlyphs">10</text>
<text x="1466" y="1138">1</text>
<text x="1042" y="1147" textLength="102" lengthAdjust="spacingAndGlyphs">Suc</text>
<text x="1033" y="1348" textLength="52" lengthAdjust="spacingAndGlyphs">11</text>
</g>
<g id="legend" class="lg">
<text x="100" y="1412">Pathway legend:</text>
<text x="100" y="1546">1- ABC transporters</text>
<text x="100" y="1630">2- Starch and sucrose metabolism</text>
<text x="100" y="1713">3- Alanine, aspartate and glutamate metabolism</text>
<text x="100" y="1796">4- Arginine biosynthesis</text>
<text x="100" y="1880">5- Arginine and proline metabolism</text>
<text x="100" y="1963">6- One carbon pool by folate</text>
<text x="100" y="2047">7- Sulfur metabolism</text>
<text x="1475" y="1382">8-Dissimilatory sulfate</text>
<text x="1475" y="1466">reduction</text>
<text x="1475" y="1552">9- Sulphate-sulfur</text>
<text x="1475" y="1637">assimilation</text>
<text x="1475" y="1718">10- Betaine biosynthesis</text>
<text x="1475" y="1802">11- Glycogen degradation</text>
<text x="1475" y="1887">12- Arginine biosynthesis</text>
<text x="1475" y="1971">13- Urea cycle</text>
<text x="1475" y="2055">14-15- Polyamine biosynthesis</text>
</g>
</svg>
